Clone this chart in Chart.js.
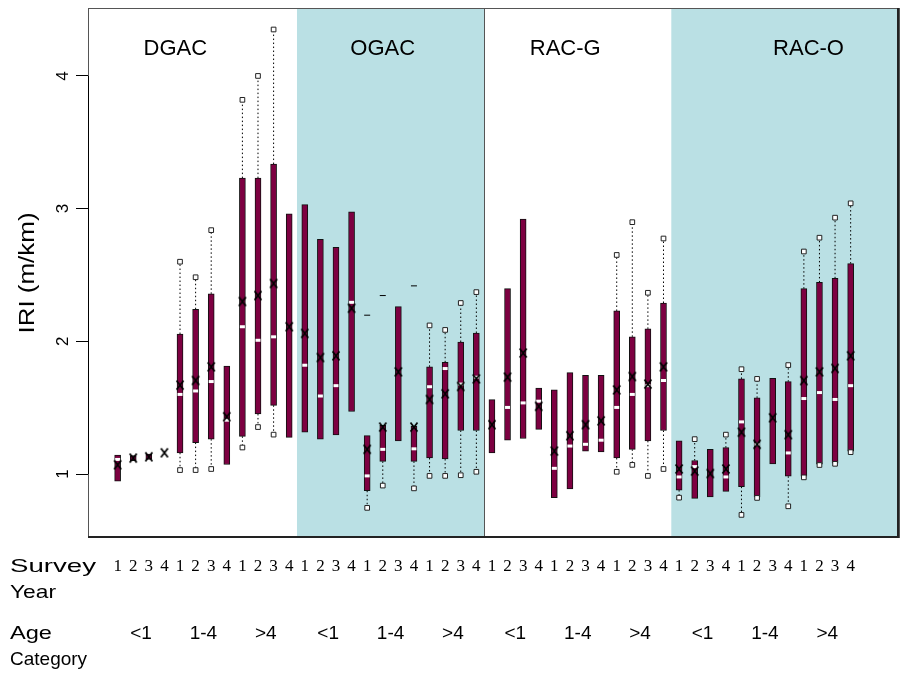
<!DOCTYPE html>
<html>
<head>
<meta charset="utf-8">
<script src="https://cdn.jsdelivr.net/npm/chart.js@4.4.0/dist/chart.umd.min.js"></script>
<style>
  html, body { margin: 0; padding: 0; background: #fff; overflow: hidden; }
  #wrap { width: 902px; height: 677px; }
</style>
</head>
<body>
<div id="wrap"><canvas id="c"></canvas></div>
<script>
// IRI box plots by mix type, age category and survey year
// one entry per box, left to right (4 mixes x 3 age groups x 4 survey years)

const mixes = ['DGAC', 'OGAC', 'RAC-G', 'RAC-O'];
const ageCategory = ['<1', '1-4', '>4', '<1', '1-4', '>4', '<1', '1-4', '>4', '<1', '1-4', '>4'];
const surveyYear = [
  '1', '2', '3', '4', '1', '2', '3', '4', '1', '2', '3', '4',
  '1', '2', '3', '4', '1', '2', '3', '4', '1', '2', '3', '4',
  '1', '2', '3', '4', '1', '2', '3', '4', '1', '2', '3', '4',
  '1', '2', '3', '4', '1', '2', '3', '4', '1', '2', '3', '4'
];
const yTicks = [1, 2, 3, 4];

const boxLow = [
  0.947, 1.10, 1.11, null, 1.16, 1.237, 1.263, 1.072, 1.284, 1.453, 1.518, 1.276,
  1.315, 1.263, 1.294, 1.471, 0.874, 1.095, 1.25, 1.095, 1.121, 1.113, 1.328, 1.328,
  1.159, 1.255, 1.268, 1.336, 0.822, 0.887, 1.173, 1.167, 1.121, 1.186, 1.25, 1.328,
  0.879, 0.817, 0.827, 0.869, 0.905, 0.827, 1.076, 0.983, 0.983, 1.074, 1.082, 1.173
];
const boxHigh = [
  1.143, 1.14, 1.15, null, 2.055, 2.242, 2.358, 1.813, 3.23, 3.23, 3.336, 2.96,
  3.03, 2.768, 2.709, 2.976, 1.289, 1.367, 2.262, 1.36, 1.808, 1.842, 1.995, 2.063,
  1.561, 2.397, 2.921, 1.647, 1.634, 1.764, 1.743, 1.743, 2.229, 2.034, 2.094, 2.289,
  1.25, 1.102, 1.186, 1.199, 1.717, 1.574, 1.722, 1.696, 2.397, 2.444, 2.475, 2.586
];
const means = [
  1.07, 1.12, 1.13, 1.16, 1.67, 1.705, 1.808, 1.432, 2.30, 2.345, 2.436, 2.11,
  2.06, 1.878, 1.891, 2.249, 1.186, 1.354, 1.77, 1.354, 1.562, 1.605, 1.66, 1.717,
  1.372, 1.73, 1.912, 1.51, 1.173, 1.289, 1.372, 1.401, 1.634, 1.735, 1.678, 1.808,
  1.038, 1.022, 1.004, 1.038, 1.315, 1.224, 1.424, 1.297, 1.704, 1.77, 1.796, 1.891
];
const medians = [
  1.11, null, null, null, 1.60, 1.626, 1.697, 1.406, 2.11, 2.008, 2.034, null,
  1.82, 1.588, 1.666, 2.294, 0.986, 1.186, null, 1.19, 1.658, 1.795, 1.678, 1.73,
  null, 1.502, 1.536, 1.549, 1.043, 1.211, 1.224, 1.255, 1.502, 1.60, 1.666, 1.705,
  0.978, 1.056, null, 0.978, 1.393, 1.224, null, 1.159, 1.569, 1.614, 1.562, 1.666
];
const whiskLow = [
  null, null, null, null, 1.03, 1.03, 1.038, null, 1.20, 1.354, 1.297, null,
  null, null, null, null, 0.745, 0.913, null, 0.892, 0.986, 0.986, 0.991, 1.017,
  null, null, null, null, null, null, null, null, 1.017, 1.069, 0.986, 1.038,
  0.822, null, null, null, 0.692, 0.82, null, 0.757, 0.975, 1.068, 1.077, 1.165
];
const whiskHigh = [
  null, null, null, null, 2.60, 2.483, 2.838, null, 3.82, 4.00, 4.35, null,
  null, null, null, null, null, null, null, null, 2.12, 2.086, 2.289, 2.371,
  null, null, null, null, null, null, null, null, 2.651, 2.898, 2.366, 2.775,
  null, 1.263, null, 1.297, 1.79, 1.717, null, 1.821, 2.677, 2.781, 2.932, 3.04
];
const topDash = [
  null, null, null, null, null, null, null, null, null, null, null, null,
  null, null, null, null, 2.197, 2.345, null, 2.418, null, null, null, null,
  null, null, null, null, null, null, null, null, null, null, null, null,
  null, null, null, null, null, null, null, null, null, null, null, null
];

// layout helpers (x is the box slot, 0..47)
const X_MIN = -1.9, X_MAX = 50.1;
const panelEdges = [X_MIN, 11.5, 23.5, 35.5, X_MAX];
const panelShaded = [false, true, false, true];
const panelTitleX = [3.7, 17, 28.7, 44.3];
const ageTickPos = [1.5, 5.5, 9.5, 13.5, 17.5, 21.5, 25.5, 29.5, 33.5, 37.5, 41.5, 45.5];
// row headers below the plot: text, y, target width
const rowHeaders = [['Survey', 567, 86], ['Year', 593, 46], ['Age', 634, 42], ['Category', 660, 77]];

const BOX = '#7d0041';
const PANEL = '#bae0e4';
const SANS = "'Liberation Sans', Arial, sans-serif";
const SERIF = "'Liberation Serif', 'Times New Roman', serif";

function xMarker() {
  const c = document.createElement('canvas');
  c.width = 10; c.height = 12;
  const g = c.getContext('2d');
  g.strokeStyle = '#000';
  g.lineWidth = 1.8;
  g.beginPath();
  g.moveTo(1.5, 1.5); g.lineTo(8.5, 10.5);
  g.moveTo(8.5, 1.5); g.lineTo(1.5, 10.5);
  g.stroke();
  return c;
}

const pts = arr => arr.map((v, i) => ({ x: i, y: v }));

const whiskerPts = [];
boxHigh.forEach((hi, i) => {
  if (whiskHigh[i] != null) whiskerPts.push({ x: i, y: hi }, { x: i, y: whiskHigh[i] }, { x: i, y: null });
  if (whiskLow[i] != null) whiskerPts.push({ x: i, y: boxLow[i] }, { x: i, y: whiskLow[i] }, { x: i, y: null });
});

const decor = {
  id: 'decor',
  beforeDatasetsDraw(chart) {
    const { ctx, chartArea: a, scales: { x } } = chart;
    ctx.save();
    for (let p = 0; p < mixes.length; p++) {
      if (!panelShaded[p]) continue;
      const l = x.getPixelForValue(panelEdges[p]);
      const r = x.getPixelForValue(panelEdges[p + 1]);
      ctx.fillStyle = PANEL;
      ctx.fillRect(l, a.top, r - l, a.bottom - a.top);
      ctx.strokeStyle = '#555';
      ctx.lineWidth = 1;
      ctx.beginPath();
      ctx.moveTo(Math.round(r) + 0.5, a.top);
      ctx.lineTo(Math.round(r) + 0.5, a.bottom);
      ctx.stroke();
    }
    ctx.restore();
  },
  afterDatasetsDraw(chart) {
    const { ctx, chartArea: a, scales: { x, y } } = chart;
    ctx.save();
    // frame
    ctx.strokeStyle = '#555';
    ctx.lineWidth = 1;
    ctx.strokeRect(a.left + 0.5, a.top + 0.5, a.right - a.left - 1, a.bottom - a.top - 1);
    ctx.strokeStyle = '#222';
    ctx.lineWidth = 2;
    ctx.beginPath();
    ctx.moveTo(a.right - 1, a.top); ctx.lineTo(a.right - 1, a.bottom);
    ctx.moveTo(a.left, a.bottom - 1); ctx.lineTo(a.right, a.bottom - 1);
    ctx.stroke();
    // y axis line between first and last tick
    ctx.strokeStyle = '#000';
    ctx.lineWidth = 1;
    ctx.beginPath();
    ctx.moveTo(a.left + 0.5, y.getPixelForValue(yTicks[0]));
    ctx.lineTo(a.left + 0.5, y.getPixelForValue(yTicks[yTicks.length - 1]));
    ctx.stroke();

    ctx.fillStyle = '#000';
    // panel titles
    ctx.font = '22px ' + SANS;
    ctx.textAlign = 'center';
    ctx.textBaseline = 'middle';
    mixes.forEach((m, p) => ctx.fillText(m, x.getPixelForValue(panelTitleX[p]), y.getPixelForValue(4.2)));

    // rotated y tick labels
    ctx.font = '17px ' + SANS;
    yTicks.forEach(v => {
      ctx.save();
      ctx.translate(63, y.getPixelForValue(v));
      ctx.rotate(-Math.PI / 2);
      ctx.fillText(String(v), 0, 0);
      ctx.restore();
    });

    // y title
    ctx.save();
    ctx.font = '22px ' + SANS;
    ctx.translate(28, (a.top + a.bottom) / 2);
    ctx.rotate(-Math.PI / 2);
    ctx.scale(1.18, 1);
    ctx.fillText('IRI (m/km)', 0, 0);
    ctx.restore();

    // row headers under the plot (the source text is set a little wide)
    ctx.font = '19px ' + SANS;
    ctx.textAlign = 'left';
    rowHeaders.forEach(([t, ty, w]) => {
      const sx = Math.max(1, w / ctx.measureText(t).width);
      ctx.save();
      ctx.translate(10, ty);
      ctx.scale(sx, 1);
      ctx.fillText(t, 0, 0);
      ctx.restore();
    });
    ctx.restore();
  }
};

new Chart(document.getElementById('c'), {
  type: 'bar',
  data: {
    datasets: [
      {
        type: 'line',
        data: whiskerPts,
        borderColor: '#000',
        borderWidth: 1,
        borderDash: [1.5, 2.5],
        pointRadius: 0,
        spanGaps: false,
        order: 10
      },
      {
        type: 'bar',
        data: boxLow.map((lo, i) => ({ x: i, y: lo == null ? null : [lo, boxHigh[i]] })),
        backgroundColor: BOX,
        borderColor: '#111',
        borderWidth: 1,
        borderSkipped: false,
        barThickness: 6,
        order: 5
      },
      {
        type: 'scatter',
        data: pts(whiskHigh),
        pointStyle: 'rect',
        pointRadius: 3.3,
        pointBackgroundColor: '#fff',
        pointBorderColor: '#222',
        pointBorderWidth: 1,
        order: 3
      },
      {
        type: 'scatter',
        data: pts(whiskLow),
        pointStyle: 'rect',
        pointRadius: 3.3,
        pointBackgroundColor: '#fff',
        pointBorderColor: '#222',
        pointBorderWidth: 1,
        order: 3
      },
      {
        type: 'scatter',
        data: pts(topDash),
        pointStyle: 'line',
        pointRadius: 3,
        pointBorderColor: '#000',
        pointBorderWidth: 1,
        order: 3
      },
      {
        type: 'scatter',
        data: pts(medians),
        pointStyle: 'line',
        pointRadius: 2.5,
        pointBorderColor: '#fff',
        pointBorderWidth: 3,
        order: 2
      },
      {
        type: 'scatter',
        data: pts(means),
        pointStyle: xMarker(),
        pointRadius: 5,
        order: 1
      }
    ]
  },
  options: {
    responsive: true,
    maintainAspectRatio: false,
    animation: false,
    events: [],
    layout: { autoPadding: false, padding: { left: 0, right: 3, top: 8, bottom: 0 } },
    plugins: { legend: { display: false }, tooltip: { enabled: false } },
    scales: {
      x: {
        type: 'linear',
        min: X_MIN,
        max: X_MAX,
        offset: false,
        weight: 0,
        grid: { display: false, drawTicks: false },
        border: { display: false },
        afterBuildTicks: s => { s.ticks = surveyYear.map((_, i) => ({ value: i })); },
        afterFit: s => { s.height = 60; },
        ticks: {
          autoSkip: false,
          maxRotation: 0,
          padding: 18,
          color: '#000',
          font: { family: SERIF, size: 17 },
          callback: v => surveyYear[v]
        }
      },
      x2: {
        type: 'linear',
        position: 'bottom',
        min: X_MIN,
        max: X_MAX,
        offset: false,
        weight: 1,
        grid: { display: false, drawTicks: false },
        border: { display: false },
        afterBuildTicks: s => { s.ticks = ageTickPos.map(v => ({ value: v })); },
        afterFit: s => { s.height = 79; },
        ticks: {
          autoSkip: false,
          maxRotation: 0,
          padding: 24,
          color: '#000',
          font: { family: SANS, size: 19 },
          callback: (v, idx) => ageCategory[idx]
        }
      },
      y: {
        type: 'linear',
        min: 0.518,
        max: 4.512,
        afterBuildTicks: s => { s.ticks = yTicks.map(v => ({ value: v })); },
        afterFit: s => { s.width = 88; },
        ticks: { display: false },
        grid: { drawOnChartArea: false, drawTicks: true, tickLength: 12, color: '#000', lineWidth: 1 },
        border: { display: false }
      }
    }
  },
  plugins: [decor]
});
</script>
</body>
</html>
